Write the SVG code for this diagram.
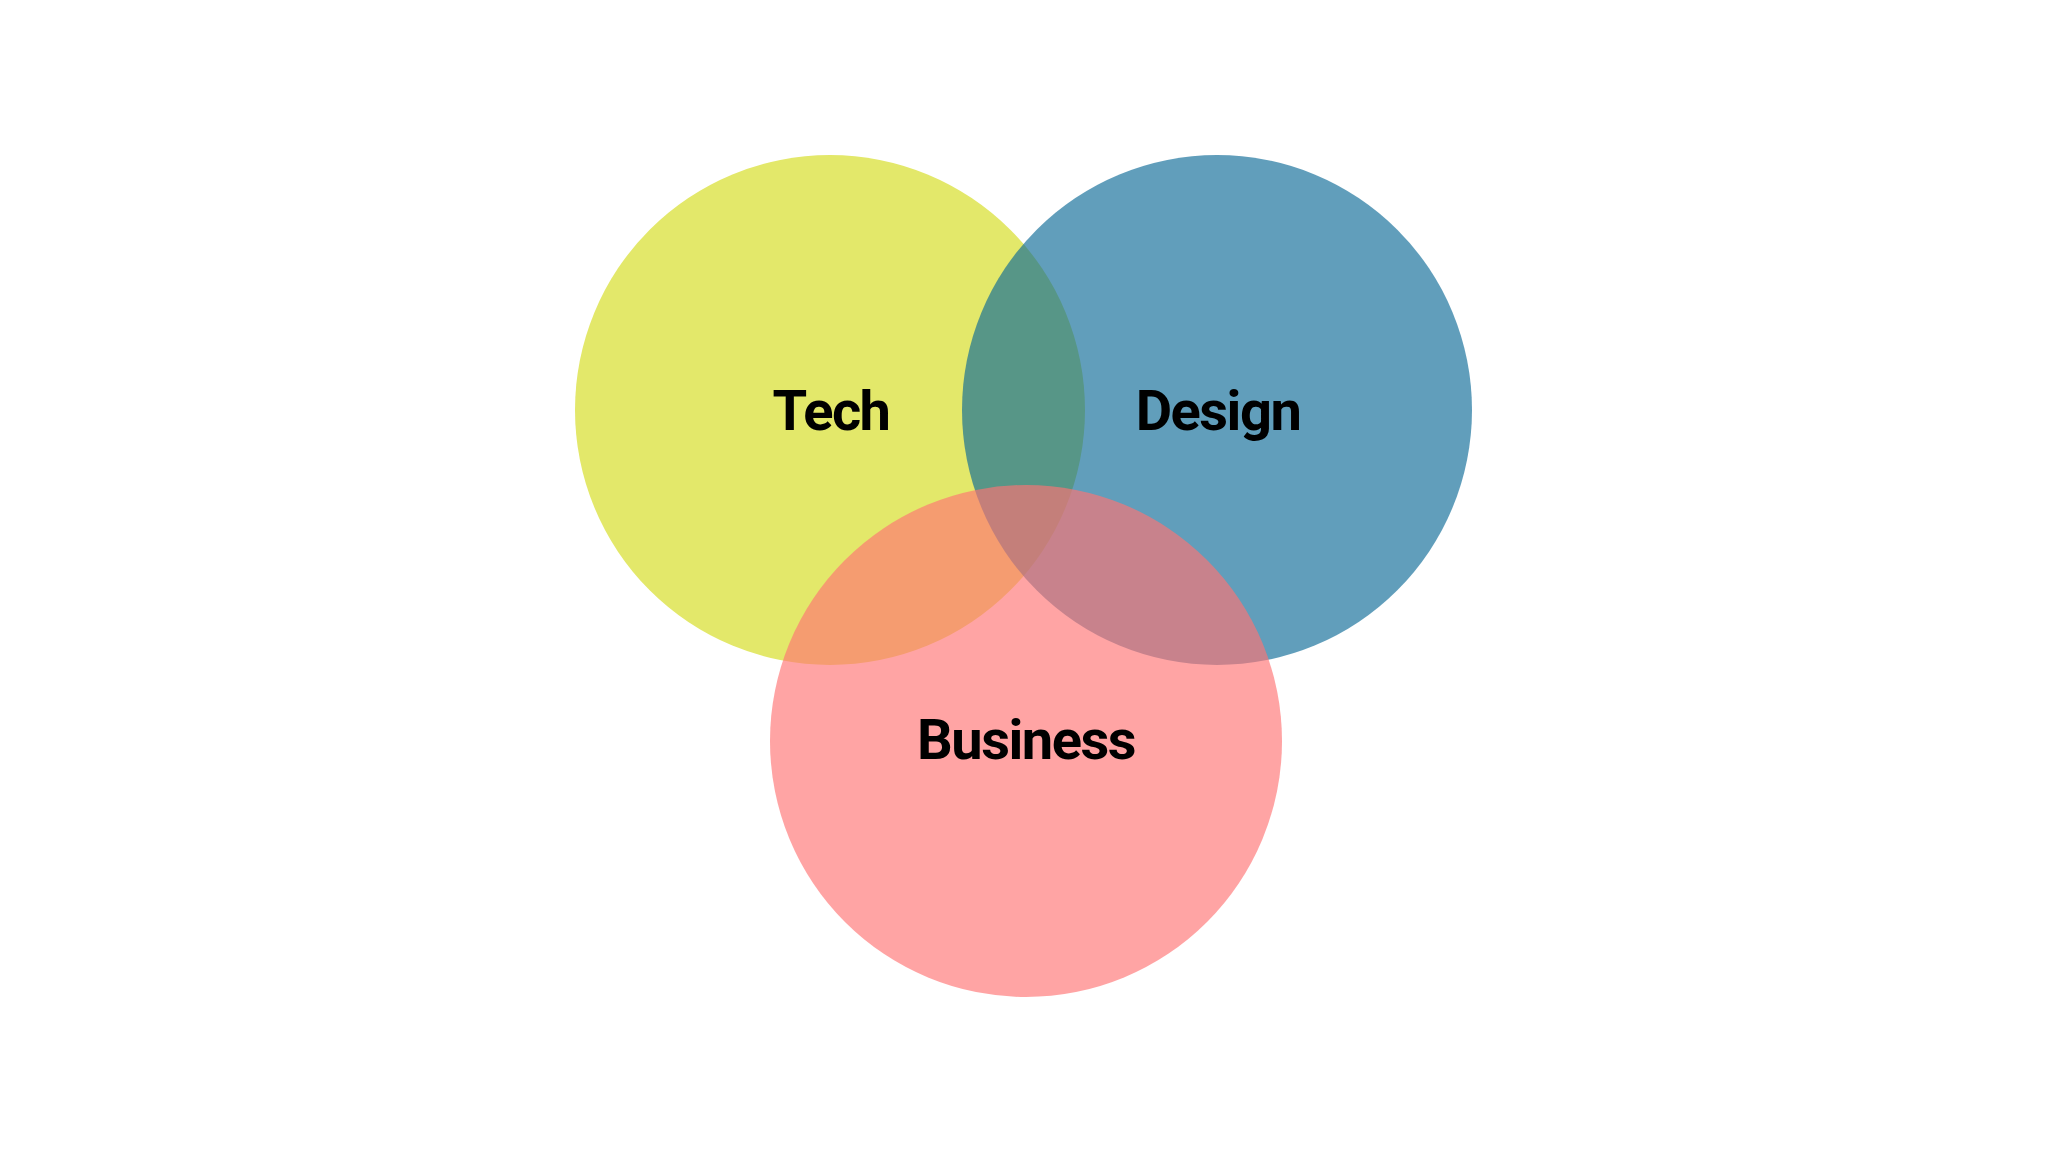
<svg xmlns="http://www.w3.org/2000/svg" width="2048" height="1152" viewBox="0 0 2048 1152">
  <style>
    .lbl { font-family: Roboto, "Liberation Sans", sans-serif; font-weight: 700; font-size: 56px; letter-spacing: -1.5px; fill: #000; text-anchor: middle; }
    .c { fill-opacity: 0.65; }
  </style>
  <rect width="2048" height="1152" fill="#ffffff"/>
  <g id="tech">
    <circle cx="830" cy="410" r="255" fill="#E3E86A"/>
  </g>
  <g id="design">
    <circle class="c" cx="1217" cy="410" r="255" fill="#0D6A96"/>
  </g>
  <g id="business">
    <circle class="c" cx="1026" cy="741" r="256" fill="#FF7373"/>
  </g>
  <g id="labels">
    <text class="lbl" x="831" y="430">Tech</text>
    <text class="lbl" x="1218" y="430">Design</text>
    <text class="lbl" x="1026" y="759">Business</text>
  </g>
  <g id="connectors"/>
</svg>
